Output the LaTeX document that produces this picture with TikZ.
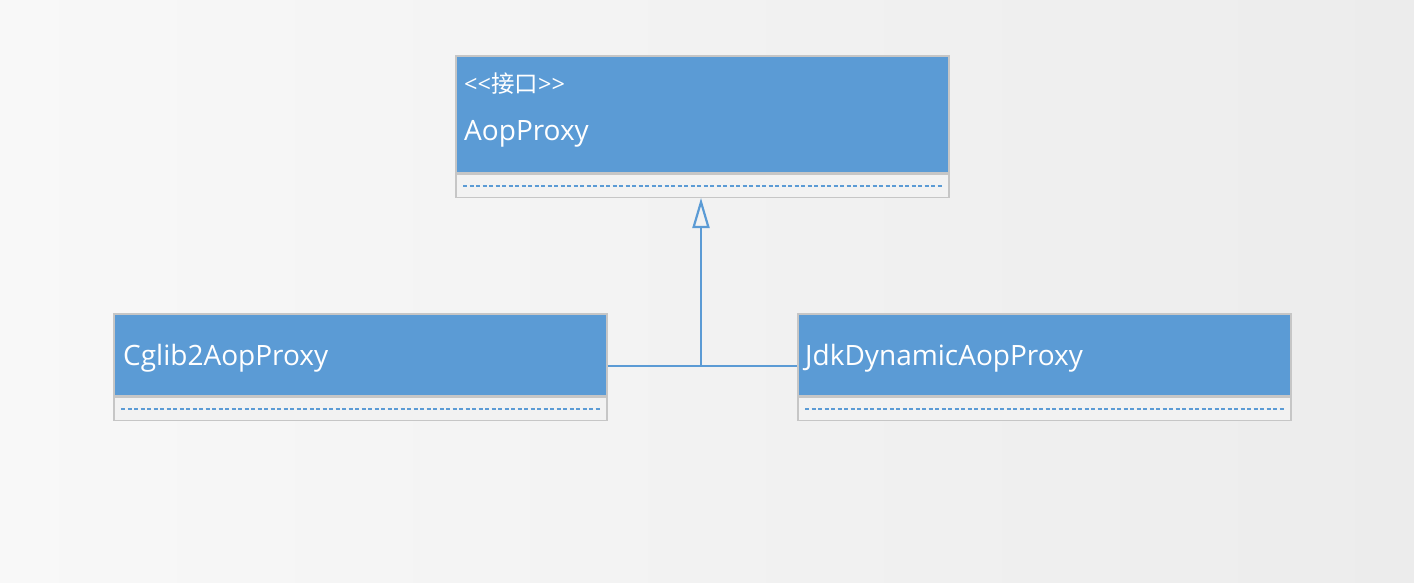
\documentclass[tikz,border=0pt]{standalone}
\usepackage{fontspec}
\setmainfont{Open Sans}
\newfontfamily\cjk{Noto Sans CJK SC}
\usetikzlibrary{arrows.meta}
\definecolor{umlblue}{HTML}{5B9BD5}
\definecolor{umlborder}{HTML}{C6C6C6}
\definecolor{umlcomp}{HTML}{F2F2F2}
\definecolor{umldash}{HTML}{5B9BD5}
\definecolor{bgleft}{HTML}{F8F8F8}
\definecolor{bgright}{HTML}{ECECEC}
\tikzset{
  classhead/.style={rectangle, fill=umlblue, draw=umlborder, line width=1.5pt, minimum width=493pt, minimum height=#1, inner sep=0pt, anchor=north west},
  classbody/.style={rectangle, fill=umlcomp, draw=umlborder, line width=1.5pt, minimum width=493pt, minimum height=23pt, inner sep=0pt, anchor=north},
  classname/.style={text=white, font=\fontsize{28}{32}\selectfont, inner sep=0pt, anchor=west},
  stereo/.style={text=white, font=\fontsize{23.5}{27}\selectfont, inner sep=0pt, anchor=west},
  sepline/.style={umldash, line width=1.6pt, dash pattern=on 4pt off 2.5pt},
  inherit/.style={umlblue, line width=2.2pt},
}
\begin{document}
\begin{tikzpicture}[x=1pt, y=-1pt]
\useasboundingbox (0,0) rectangle (1414,582);
\shade[left color=bgleft, right color=bgright] (0,0) rectangle (1414,582);

% interface
\node (aop) [classhead=117pt] at (455,55) {};
\node (aopbody) [classbody] at (aop.south) {};
\node (aopstereo) [stereo] at (464,84) {{<}{<}{\cjk 接口}{>}{>}};
\node (aopname) [classname] at (464,134) {AopProxy};
\draw [sepline] ([xshift=8pt]aopbody.west) -- ([xshift=-6pt]aopbody.east);

% implementations
\node (cglib) [classhead=82pt] at (113,313) {};
\node (cglibbody) [classbody] at (cglib.south) {};
\node (cglibname) [classname] at ([xshift=10pt,yshift=-3pt]cglib.west) {Cglib2AopProxy};
\draw [sepline] ([xshift=8pt]cglibbody.west) -- ([xshift=-6pt]cglibbody.east);

\node (jdk) [classhead=82pt] at (797,313) {};
\node (jdkbody) [classbody] at (jdk.south) {};
\node (jdkname) [classname] at ([xshift=8pt,yshift=-3pt]jdk.west) {JdkDynamicAopProxy};
\draw [sepline] ([xshift=8pt]jdkbody.west) -- ([xshift=-6pt]jdkbody.east);

% generalization
\coordinate (join) at (701,366);
\draw [inherit] (cglib.east |- join) -- (jdk.west |- join);
\draw [inherit, -{Triangle[open, length=30pt, width=17pt, line width=2.2pt]}] (join) -- (join |- aopbody.south);
\end{tikzpicture}
\end{document}
